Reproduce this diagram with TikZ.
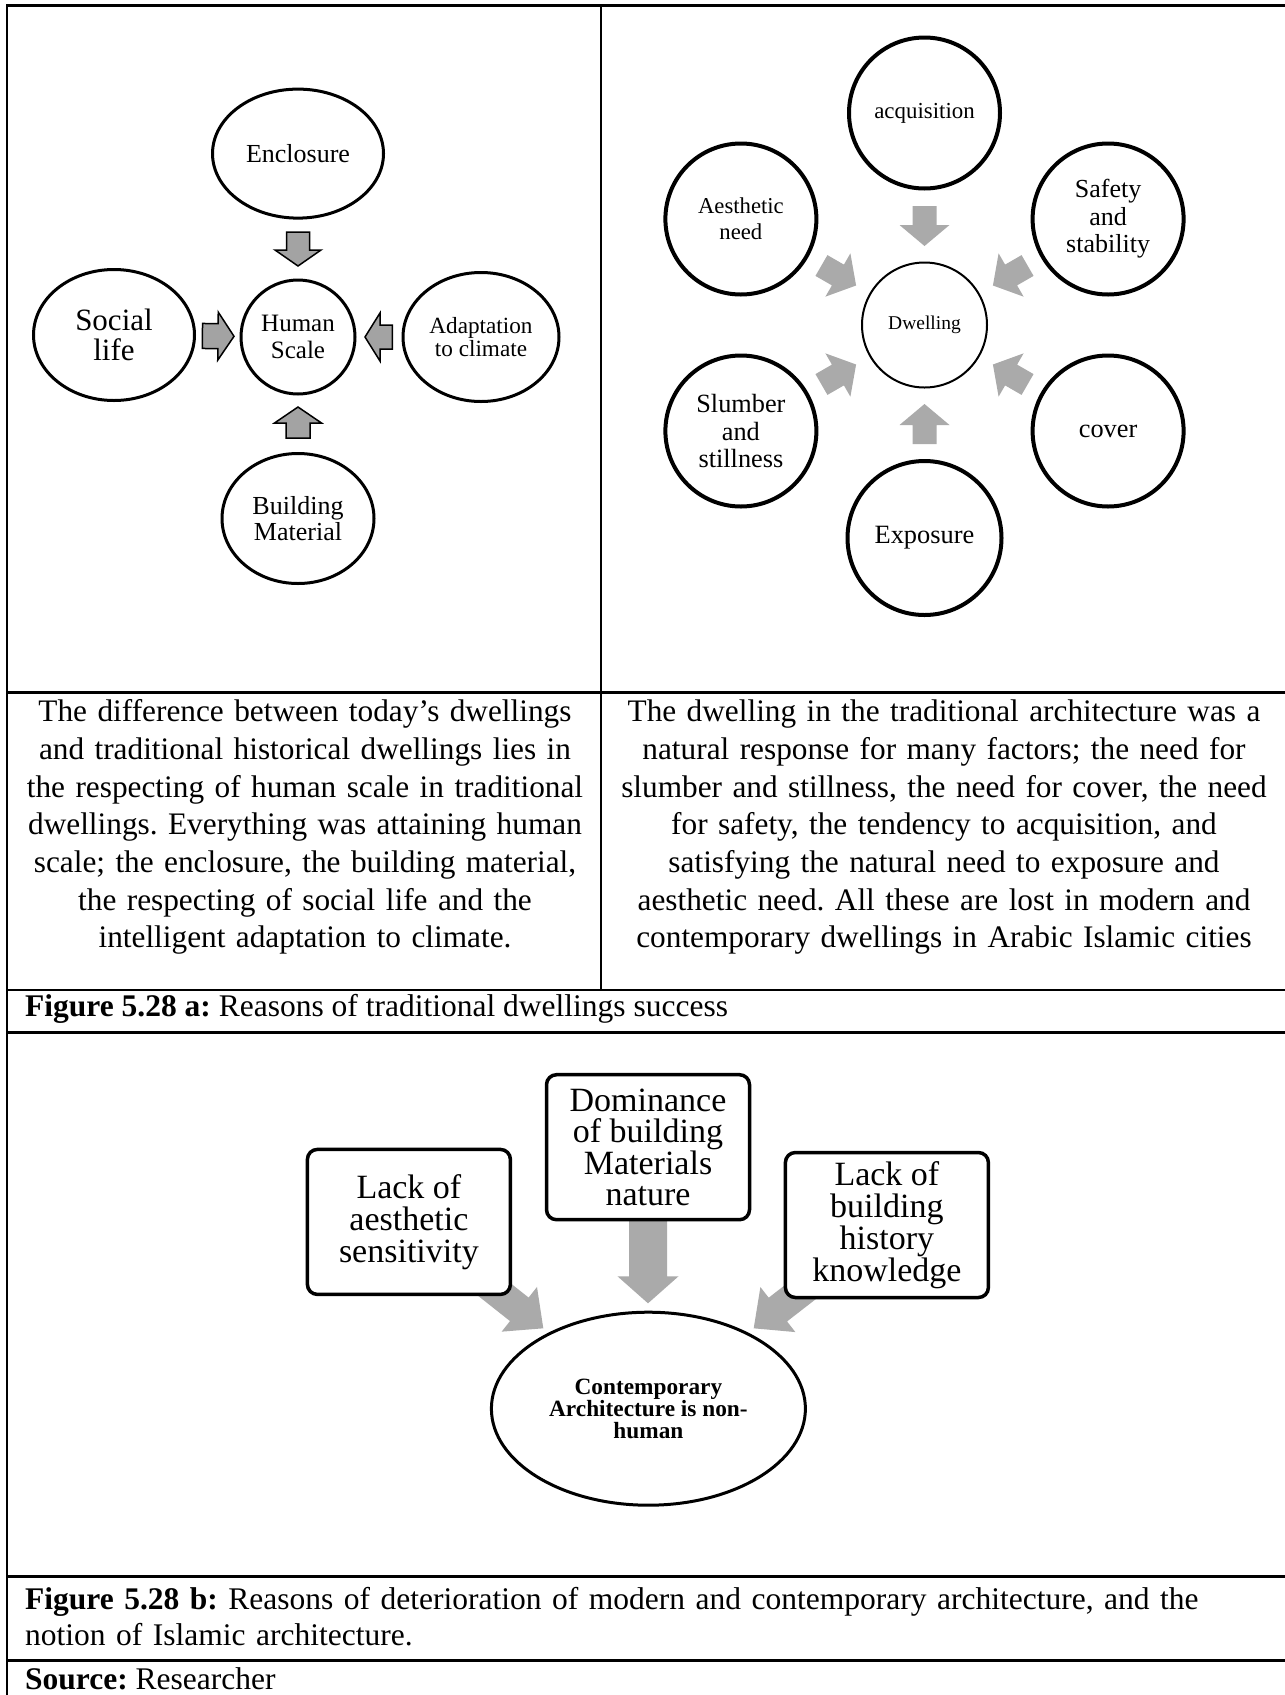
\documentclass[tikz,border=0pt]{standalone}
\usepackage{fontspec}
\setmainfont{Liberation Serif}
\usetikzlibrary{calc,shapes.geometric,backgrounds}
\definecolor{arrowgray}{RGB}{163,163,163}
\definecolor{lightarrow}{RGB}{170,170,170}
\frenchspacing
\newcommand\fs[2]{\fontsize{#1pt}{#2pt}\selectfont}
% style, tail, tip, shaft half-width, head half-width, head length
\newcommand\blockarrow[6]{%
  \coordinate (bah) at ($(#3)!#6pt!(#2)$);
  \path[#1] ($(#2)!#4pt!90:(#3)$) -- ($(bah)!#4pt!90:(#3)$) -- ($(bah)!#5pt!90:(#3)$) -- (#3)
    -- ($(bah)!#5pt!-90:(#3)$) -- ($(bah)!#4pt!-90:(#3)$) -- ($(#2)!#4pt!-90:(#3)$) -- cycle;}
\begin{document}
\begin{tikzpicture}[x=1pt,y=-1pt,
  tbl/.style={line width=2.5pt},
  ell/.style={ellipse, draw, line width=3pt, inner sep=0pt, align=center},
  hexc/.style={circle, draw, line width=4pt, minimum size=151pt, inner sep=0pt, align=center, fill=white},
  garrowA/.style={fill=arrowgray, draw=black, line width=1.5pt, line join=miter},
  garrowB/.style={fill=lightarrow},
  rbox/.style={draw, rounded corners=10pt, line width=3.5pt, fill=white, align=center, inner sep=0pt, minimum width=203pt, minimum height=145pt},
  para/.style={text width=680pt, align=center, anchor=base, inner sep=0pt, font=\fs{31.3}{37.7}},
  capt/.style={anchor=base west, inner sep=0pt, font=\fs{31.5}{36.7}}]
\useasboundingbox (0,0) rectangle (1285,1695);

% ---------- table rules ----------
\draw[tbl] (1285,5.7) -- (7,5.7) -- (7,1695);
\draw[tbl] (601,5.7) -- (601,990);
\foreach \yy in {692.3,990,1032.7,1576.7,1660.7} \draw[tbl] (7,\yy) -- (1285,\yy);

% ---------- panel 1: Human Scale ----------
\node[ell, circle, minimum size=114pt, font=\fs{25}{26.5}] (hum) at (298,337) {Human\\Scale};
\node[ell, minimum width=171pt, minimum height=129pt, font=\fs{26}{26}] (enc) at (298,153.6) {Enclosure};
\node[ell, minimum width=161pt, minimum height=131pt, font=\fs{31}{30.7}] (soc) at (114,335) {Social\\life};
\node[ell, minimum width=156pt, minimum height=129pt, font=\fs{23.2}{23.5}] (ada) at (481,337) {Adaptation\\to climate};
\node[ell, minimum width=152pt, minimum height=130pt, font=\fs{26}{26}] (bld) at (298,518.5) {Building\\Material};

% ---------- panel 2: Dwelling ----------
\node[circle, draw, line width=2pt, minimum size=125pt, inner sep=0pt, font=\fs{19.5}{20}] (dw) at (924.5,325) {Dwelling};
\node[hexc, font=\fs{22.9}{24}] (acq) at (924.5,113) {acquisition};
\node[hexc, font=\fs{22.7}{26}] (aes) at (740.9,219) {Aesthetic\\need};
\node[hexc, font=\fs{26}{27.4}] (saf) at (1108.1,219) {Safety\\and\\stability};
\node[hexc, font=\fs{26.3}{27.8}] (slu) at (740.9,431) {Slumber\\and\\stillness};
\node[hexc, font=\fs{26.3}{27}] (cov) at (1108.1,431) {cover};
\node[hexc, minimum size=154pt, font=\fs{26.4}{27}] (exq) at (924.5,538) {Exposure};

% ---------- text row ----------
\node[para] (txa) at (305,721.7) {The difference between today’s dwellings\\
and traditional historical dwellings lies in\\
the respecting of human scale in traditional\\
dwellings. Everything was attaining human\\
scale; the enclosure, the building material,\\
the respecting of social life and the\\
intelligent adaptation to climate.};
\node[para] (txb) at (944,721.7) {The dwelling in the traditional architecture was a\\
natural response for many factors; the need for\\
slumber and stillness, the need for cover, the need\\
for safety, the tendency to acquisition, and\\
satisfying the natural need to exposure and\\
aesthetic need. All these are lost in modern and\\
contemporary dwellings in Arabic Islamic cities};
\node[capt] (capa) at (25,1016) {\textbf{Figure 5.28 a:} Reasons of traditional dwellings success};

% ---------- panel 3 ----------
\node[rbox, font=\fs{34}{31.5}] (dom) at (648,1147.2) {Dominance\\of building\\Materials\\nature};
\node[rbox, font=\fs{34}{32}] (lac) at (408.9,1221.9) {Lack of\\aesthetic\\sensitivity};
\node[rbox, font=\fs{34}{31.8}] (lbh) at (886.9,1225) {Lack of\\building\\history\\knowledge};
\node[ellipse, draw, line width=3pt, inner sep=0pt, minimum width=314pt, minimum height=193pt, align=center, fill=white, font=\bfseries\fs{23.3}{22}] (con) at (648.4,1408.7) {Contemporary\\Architecture is non-\\human};

\node[capt, text width=1250pt, align=left] (capb) at (25,1609) {\textbf{Figure 5.28 b:} Reasons of deterioration of modern and contemporary architecture, and the\\notion of Islamic architecture.};
\node[capt] (src) at (25,1689.5) {\textbf{Source:} Researcher};

% ---------- arrow end points ----------
\coordinate (t1) at ($(hum.center)!105pt!(enc.center)$);
\coordinate (h1) at ($(hum.center)!71pt!(enc.center)$);
\coordinate (t2) at ($(hum.center)!95.6pt!(soc.center)$);
\coordinate (h2) at ($(hum.center)!64pt!(soc.center)$);
\coordinate (t3) at ($(hum.center)!94.4pt!(ada.center)$);
\coordinate (h3) at ($(hum.center)!67pt!(ada.center)$);
\coordinate (t4) at ($(hum.center)!101pt!(bld.center)$);
\coordinate (h4) at ($(hum.center)!70pt!(bld.center)$);
\foreach \n in {acq,aes,saf,slu,cov,exq}{
  \coordinate (t-\n) at ($(dw.center)!119pt!(\n.center)$);
  \coordinate (h-\n) at ($(dw.center)!79pt!(\n.center)$);
}
\coordinate (tipD) at (648,1303.3);
\coordinate (tipL) at (543.3,1328.3);
\coordinate (tipR) at (753.7,1328.3);

\begin{scope}[on background layer]
\fill[white] (0,0) rectangle (1285,1695);
\blockarrow{garrowA}{t1}{h1}{11.5}{23}{16}
\blockarrow{garrowA}{t2}{h2}{12.5}{24}{16}
\blockarrow{garrowA}{t3}{h3}{12}{24}{15}
\blockarrow{garrowA}{t4}{h4}{12}{23.5}{16}
\foreach \n in {acq,aes,saf,slu,cov,exq}{
  \blockarrow{garrowB}{t-\n}{h-\n}{12}{25}{21}
}
\blockarrow{garrowB}{dom.center}{tipD}{19}{30.5}{27}
\blockarrow{garrowB}{lac.center}{tipL}{15}{28.5}{30.6}
\blockarrow{garrowB}{lbh.center}{tipR}{15}{28.5}{30.6}
\end{scope}
\end{tikzpicture}
\end{document}
